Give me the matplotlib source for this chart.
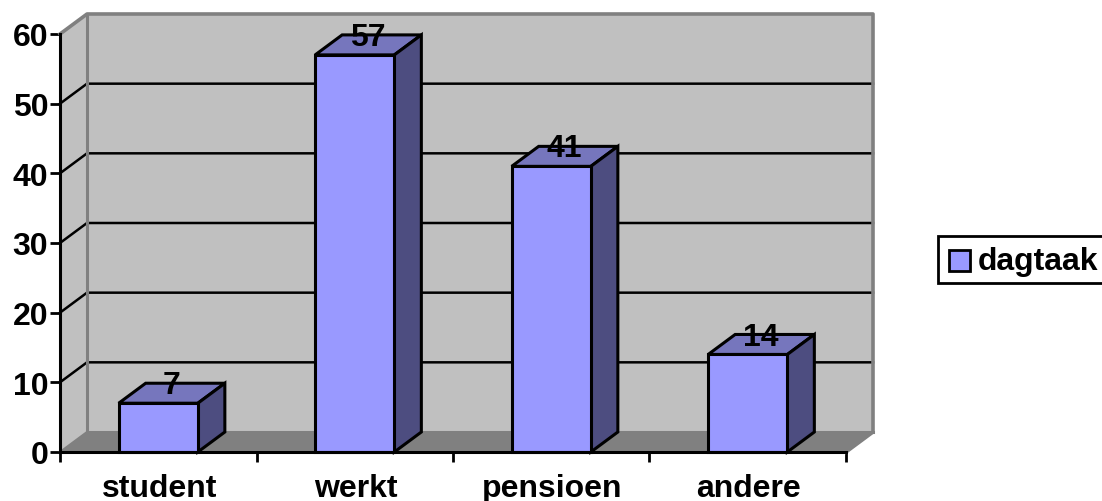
import matplotlib
matplotlib.use('Agg')
import matplotlib.pyplot as plt
from matplotlib.patches import Polygon, Rectangle

categories = ['student', 'werkt', 'pensioen', 'andere']
values = [7, 57, 41, 14]
y_ticks = [0, 10, 20, 30, 40, 50, 60]
series_name = 'dagtaak'

plt.rcParams['font.family'] = ['Liberation Sans', 'DejaVu Sans']
plt.rcParams['font.weight'] = 'bold'

W, H = 1102, 502
X0, X1, Y0, Y1 = 60, 846, 453, 35

fig = plt.figure(figsize=(W / 100, H / 100), dpi=100)
ax = fig.add_axes([X0 / W, 1 - Y0 / H, (X1 - X0) / W, (Y0 - Y1) / H])
ax.set_xlim(0, len(categories))
ax.set_ylim(0, 60)
ax.patch.set_visible(False)

# depth of the fake 3d box, in data units
dx = 27 / ((X1 - X0) / 4)
dy = 20 / ((Y0 - Y1) / 60)
bar_w = 0.403
n = len(categories)
top = y_ticks[-1]

# walls and floor
ax.add_patch(Polygon([(0, 0), (dx, dy), (dx, top + dy), (0, top)], fc='#c0c0c0', ec='none', clip_on=False, zorder=1))
ax.add_patch(Rectangle((dx, dy), n, top, fc='#c0c0c0', ec='none', clip_on=False, zorder=1))
ax.add_patch(Polygon([(0, 0), (n, 0), (n + dx, dy), (dx, dy)], fc='#808080', ec='none', clip_on=False, zorder=1))

# gridlines run along the side wall and then the back wall
for t in y_ticks[1:-1]:
    ax.plot([0, dx, n + dx], [t, t + dy, t + dy], color='black', lw=1.8, clip_on=False, zorder=2, solid_joinstyle='miter')

# grey wall borders
ax.plot([0, dx, n + dx, n + dx, n], [top, top + dy, top + dy, dy, 0], color='#808080', lw=2.6, clip_on=False, zorder=3)
ax.plot([dx, dx, n + dx], [top + dy, dy, dy], color='#808080', lw=2.2, clip_on=False, zorder=3)
ax.plot([0, dx], [0, dy], color='#808080', lw=1.5, clip_on=False, zorder=3)

for i, v in enumerate(values):
    left = i + 0.5 - bar_w / 2
    right = left + bar_w
    ax.add_patch(Polygon([(left, v), (right, v), (right + dx, v + dy), (left + dx, v + dy)],
                         fc='#7676bd', ec='black', lw=2.2, clip_on=False, zorder=4, joinstyle='miter'))
    ax.add_patch(Polygon([(right, 0), (right + dx, dy), (right + dx, v + dy), (right, v)],
                         fc='#4d4d80', ec='black', lw=2.2, clip_on=False, zorder=4, joinstyle='miter'))
    ax.add_patch(Rectangle((left, 0), bar_w, v, fc='#9999ff', ec='black', lw=2.2, clip_on=False, zorder=5))
    ax.text(i + 0.5 + dx * 0.48, v + dy - 0.3, str(v), ha='center', va='center', fontsize=23, zorder=6)

for s in ['top', 'right']:
    ax.spines[s].set_visible(False)
for s in ['left', 'bottom']:
    ax.spines[s].set_linewidth(2.2)
    ax.spines[s].set_zorder(7)

ax.set_yticks(y_ticks)
ax.set_xticks(range(n + 1))
ax.set_xticklabels([])
ax.tick_params(axis='y', length=7, width=2, labelsize=23, pad=1.5)
ax.tick_params(axis='x', length=7, width=2)
for i, c in enumerate(categories):
    ax.text(i + 0.505, -5.1, c, ha='center', va='center', fontsize=23)

# legend box runs past the edge of the picture
fig.add_artist(Rectangle((938 / W, 1 - 284 / H), 170 / W, 47 / H, fc='white', ec='black', lw=2, transform=fig.transFigure))
fig.add_artist(Rectangle((949 / W, 1 - 272 / H), 21 / W, 21 / H, fc='#9999ff', ec='black', lw=2, transform=fig.transFigure))
fig.text(978 / W, 1 - 262 / H, series_name, ha='left', va='center', fontsize=23)

fig.savefig('out.png', dpi=100)
